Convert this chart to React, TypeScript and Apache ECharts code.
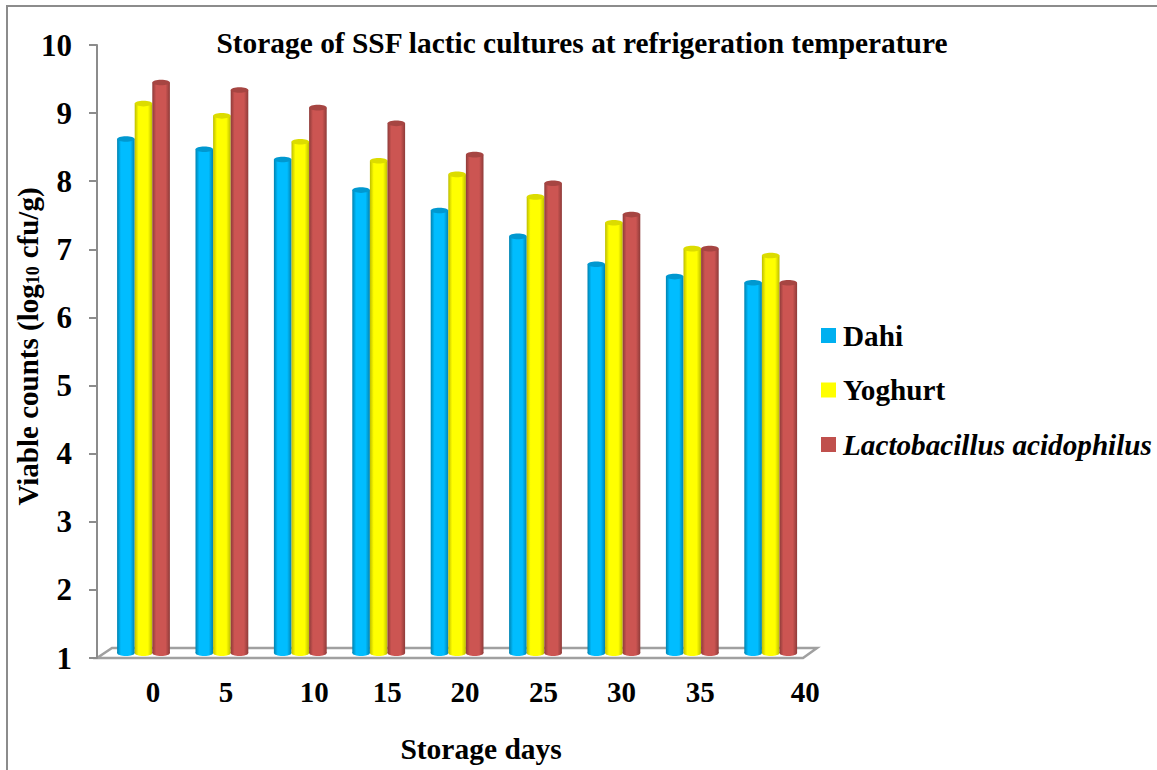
import React, { useEffect, useRef } from "react";
import * as echarts from "echarts";

const days = ["0", "5", "10", "15", "20", "25", "30", "35", "40"];
const dayLabelShift = [9.5, 4, 14, 8.5, 8, 8, 7.5, 8, 34.5];
const dahi = [8.62, 8.47, 8.32, 7.87, 7.57, 7.19, 6.78, 6.6, 6.51];
const yoghurt = [9.14, 8.96, 8.58, 8.3, 8.1, 7.77, 7.39, 7.01, 6.91];
const acidophilus = [9.45, 9.34, 9.08, 8.85, 8.39, 7.97, 7.51, 7.01, 6.51];
const seriesNames = ["Dahi", "Yoghurt", "Lactobacillus acidophilus"];
const seriesColors = ["#00B0F0", "#FFFF00", "#C0504D"];
const edgeColors = ["#0082B0", "#BDBD00", "#8E3B39"];
const midColors = ["#00BDFF", "#FFFF00", "#CC5552"];
const capColors = ["#0098D0", "#DCDC00", "#A64542"];

const FONT = "'Liberation Serif', 'Times New Roman', serif";
const BAR_W = 17.6;

function makeRender(idx: number) {
  return (_p: any, api: any) => {
    const cat = api.value(0);
    const val = api.value(1);
    const [cx, top] = api.coord([cat, val]);
    const [, base0] = api.coord([cat, 1]);
    const base = base0 - 5;
    const x = cx + (idx - 1) * BAR_W - BAR_W / 2;
    const fill = new echarts.graphic.LinearGradient(0, 0, 1, 0, [
      { offset: 0, color: edgeColors[idx] },
      { offset: 0.22, color: midColors[idx] },
      { offset: 0.75, color: midColors[idx] },
      { offset: 1, color: edgeColors[idx] },
    ]);
    return {
      type: "group",
      children: [
        { type: "ellipse", shape: { cx: x + BAR_W / 2, cy: base, rx: BAR_W / 2, ry: 3 }, style: { fill } },
        { type: "rect", shape: { x, y: top, width: BAR_W, height: base - top }, style: { fill } },
        { type: "ellipse", shape: { cx: x + BAR_W / 2, cy: top, rx: BAR_W / 2, ry: 2.8 }, style: { fill: capColors[idx] } },
      ],
    };
  };
}

export default function App() {
  const ref = useRef<HTMLDivElement>(null);
  useEffect(() => {
    const chart = echarts.init(ref.current!, undefined, { renderer: "svg" });
    const richDays: any = {};
    days.forEach((_d, i) => {
      richDays["d" + i] = {
        fontFamily: FONT, fontWeight: "bold", fontSize: 29, color: "#000",
        padding: [0, 0, 0, dayLabelShift[i] * 2],
      };
    });
    const values = [dahi, yoghurt, acidophilus];
    chart.setOption({
      animation: false,
      backgroundColor: "#fff",
      title: {
        text: "Storage of SSF lactic cultures at refrigeration temperature",
        left: 582, top: 28, textAlign: "center", padding: 0,
        textStyle: { fontFamily: FONT, fontWeight: "bold", fontSize: 29.4, color: "#000" },
      },
      legend: {
        orient: "vertical", left: 821, top: 321, itemWidth: 15, itemHeight: 15, itemGap: 25.5, padding: 0,
        icon: "rect",
        textStyle: { fontFamily: FONT, fontWeight: "bold", fontSize: 29.2, color: "#000", padding: [0, 0, 0, 2] },
        data: seriesNames.map((name, i) => ({
          name, textStyle: i === 2 ? { fontStyle: "italic" } : {},
        })),
      },
      grid: { left: 104.3, width: 705.6, top: 45, height: 613, outerBoundsMode: "none" },
      xAxis: {
        type: "category", data: days,
        axisLine: { show: false }, axisTick: { show: false },
        axisLabel: {
          margin: 19, interval: 0,
          formatter: (v: string) => `{d${days.indexOf(v)}|${v}}`,
          rich: richDays,
        },
        name: "Storage days", nameLocation: "middle", nameGap: 76,
        nameTextStyle: { fontFamily: FONT, fontWeight: "bold", fontSize: 29.5, color: "#000", padding: [0, 0, 0, 48] },
      },
      yAxis: {
        type: "value", min: 1, max: 10, interval: 1, offset: 7.3,
        splitLine: { show: false },
        axisLine: { show: true, lineStyle: { color: "#8C8C8C", width: 2 } },
        axisTick: { show: true, length: 8, lineStyle: { color: "#8C8C8C", width: 2 } },
        axisLabel: { margin: 25, fontFamily: FONT, fontWeight: "bold", fontSize: 31, color: "#000", padding: [4, 0, 0, 0] },
        name: "{a|Viable counts (log}{s|10}{a|cfu/g)}",
        nameLocation: "middle", nameGap: 55, nameRotate: 90, nameMoveOverlap: false,
        nameTextStyle: {
          rich: {
            a: { fontFamily: FONT, fontWeight: "bold", fontSize: 29, color: "#000" },
            s: { fontFamily: FONT, fontWeight: "bold", fontSize: 18, color: "#000", verticalAlign: "bottom", padding: [10, 8, 0, 0] },
          },
          padding: [0, 0, 0, 10],
        },
      },
      graphic: [
        { type: "polygon", z: 0, shape: { points: [[97, 658], [803, 658], [817, 648], [112, 648]] },
          style: { fill: "#fff", stroke: "#A0A0A0", lineWidth: 2.5 } },
        { type: "polyline", z: 0, shape: { points: [[7, 770], [7, 6], [1157, 6]] },
          style: { fill: "none", stroke: "#8C8C8C", lineWidth: 2 } },
      ],
      series: seriesNames.map((name, i) => ({
        type: "custom", name, z: 3,
        coordinateSystem: "cartesian2d",
        itemStyle: { color: seriesColors[i] },
        encode: { x: 0, y: 1 },
        renderItem: makeRender(i),
        data: values[i].map((v, c) => [c, v]),
      })),
    });
    return () => chart.dispose();
  }, []);
  return <div ref={ref} style={{ position: "absolute", left: 0, top: 0, width: 1157, height: 770 }} />;
}
